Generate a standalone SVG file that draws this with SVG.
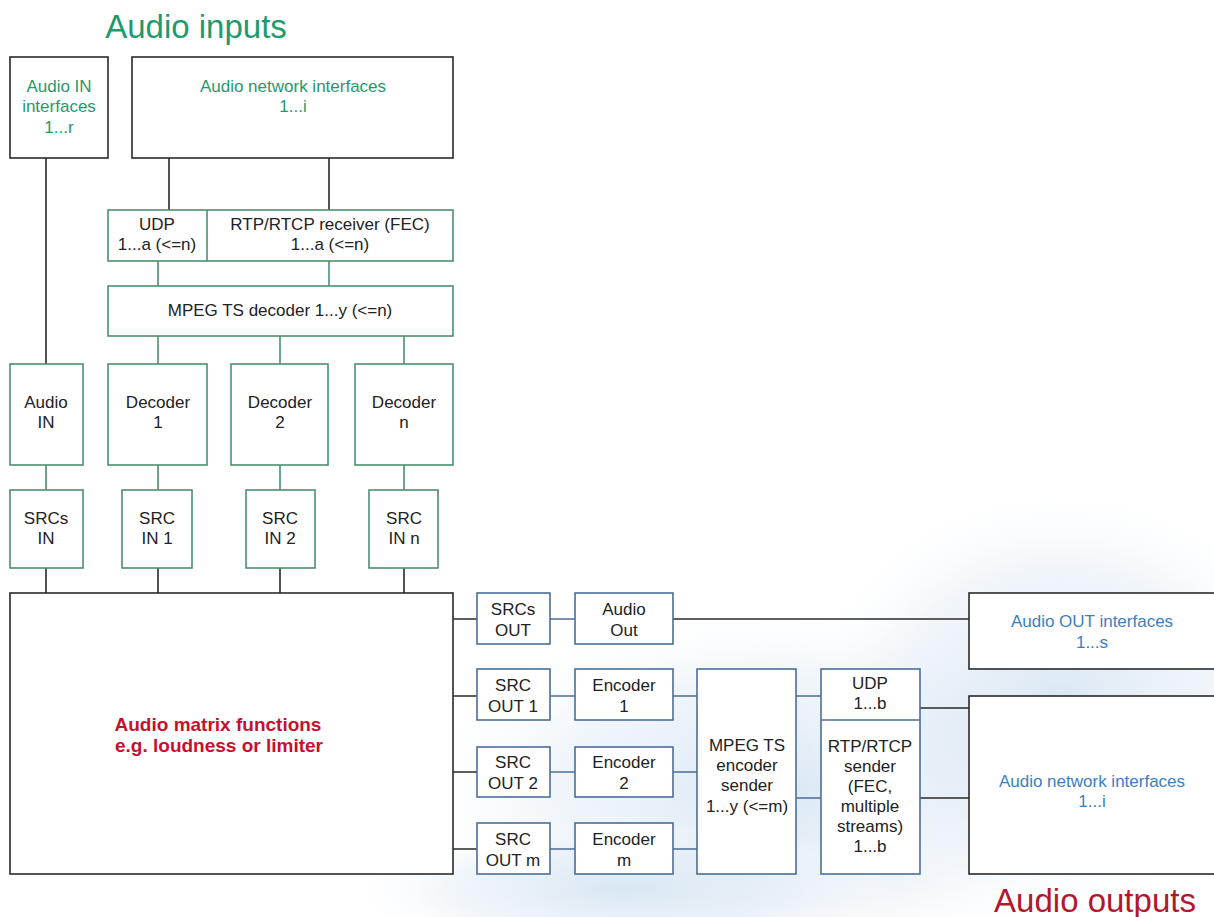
<svg xmlns="http://www.w3.org/2000/svg" width="1214" height="917" viewBox="0 0 1214 917">
<defs>
<radialGradient id="bg1" cx="0.5" cy="0.5" r="0.5">
<stop offset="0" stop-color="#d4e4f2" stop-opacity="0.85"/>
<stop offset="0.6" stop-color="#e2ecf6" stop-opacity="0.5"/>
<stop offset="1" stop-color="#ffffff" stop-opacity="0"/>
</radialGradient>
<style>
text{font-family:"Liberation Sans",Arial,sans-serif;font-size:17px;text-anchor:middle;fill:#222}
.g{fill:#1f9a6c}
.b{fill:#3a7fc4}
.gn{fill:#fff;stroke:#4b8f6f;stroke-width:1.6}
.bl{fill:#fff;stroke:#4a6f96;stroke-width:1.6}
.bkf{fill:#fff;stroke:#2a2a2a;stroke-width:1.6}
.lk{stroke:#2a2a2a;stroke-width:1.6;fill:none}
.lg{stroke:#4b8f6f;stroke-width:1.6;fill:none}
.lb{stroke:#4a6f96;stroke-width:1.6;fill:none}
.title{font-size:33px}
.red{fill:#c8102e;font-weight:bold;font-size:19px}
</style>
</defs>
<rect width="1214" height="917" fill="#fff"/>
<g id="background">
<ellipse cx="780" cy="790" rx="380" ry="190" fill="url(#bg1)"/>
<ellipse cx="1060" cy="700" rx="260" ry="220" fill="url(#bg1)"/>
<ellipse cx="620" cy="890" rx="280" ry="70" fill="url(#bg1)"/>
</g>
<text class="g title" x="196" y="38">Audio inputs</text>
<text class="title" x="1095" y="912" style="fill:#b5162e">Audio outputs</text>
<g id="connectors">
<path class="lk" d="M46 158V364M169 158V210M329 158V210"/>
<path class="lg" d="M158 261V286M329 261V286M158 336V364M280 336V364M404 336V364"/>
<path class="lg" d="M46 465V490M158 465V490M280 465V490M404 465V490"/>
<path class="lk" d="M46 568V593M158 568V593M280 568V593M404 568V593"/>
<path class="lk" d="M453 619H477M453 696H477M453 772H477M453 849H477"/>
<path class="lb" d="M550 619H575M550 696H575M550 772H575M550 849H575"/>
<path class="lk" d="M673 619H969"/>
<path class="lb" d="M673 696H697M673 772H697M673 849H697M796 696H821M796 798H821"/>
<path class="lk" d="M920 708H969M920 798H969"/>
</g>
<g id="audio-in-interfaces"><rect class="bkf" x="10" y="57" width="98" height="101"/>
<text class="g" x="59" y="92">Audio IN</text><text class="g" x="59" y="112">interfaces</text><text class="g" x="59" y="133">1...r</text></g>
<g id="audio-network-in"><rect class="bkf" x="132" y="57" width="321" height="101"/>
<text class="g" x="293" y="92">Audio network interfaces</text><text class="g" x="293" y="112">1...i</text></g>
<g id="udp-rtp-receiver"><rect class="gn" x="108" y="210" width="345" height="51"/><path class="lg" d="M207 210V261"/>
<text x="157" y="230">UDP</text><text x="157" y="250">1...a (&lt;=n)</text>
<text x="330" y="230">RTP/RTCP receiver (FEC)</text><text x="330" y="250">1...a (&lt;=n)</text></g>
<g id="mpeg-decoder"><rect class="gn" x="108" y="286" width="345" height="50"/>
<text x="280" y="316">MPEG TS decoder 1...y (&lt;=n)</text></g>
<g id="audio-in"><rect class="gn" x="10" y="364" width="73" height="101"/><text x="46" y="408">Audio</text><text x="46" y="428">IN</text></g>
<g id="decoder-1"><rect class="gn" x="108" y="364" width="99" height="101"/><text x="158" y="408">Decoder</text><text x="158" y="428">1</text></g>
<g id="decoder-2"><rect class="gn" x="231" y="364" width="97" height="101"/><text x="280" y="408">Decoder</text><text x="280" y="428">2</text></g>
<g id="decoder-n"><rect class="gn" x="355" y="364" width="98" height="101"/><text x="404" y="408">Decoder</text><text x="404" y="428">n</text></g>
<g id="srcs-in"><rect class="gn" x="10" y="490" width="73" height="78"/><text x="46" y="524">SRCs</text><text x="46" y="544">IN</text></g>
<g id="src-in-1"><rect class="gn" x="122" y="490" width="70" height="78"/><text x="157" y="524">SRC</text><text x="157" y="544">IN 1</text></g>
<g id="src-in-2"><rect class="gn" x="246" y="490" width="69" height="78"/><text x="280" y="524">SRC</text><text x="280" y="544">IN 2</text></g>
<g id="src-in-n"><rect class="gn" x="369" y="490" width="69" height="78"/><text x="404" y="524">SRC</text><text x="404" y="544">IN n</text></g>
<g id="audio-matrix"><rect class="bkf" x="10" y="593" width="443" height="281"/>
<text class="red" x="218" y="731">Audio matrix functions</text>
<text class="red" x="219" y="752">e.g. loudness or limiter</text></g>
<g id="srcs-out"><rect class="bl" x="477" y="593" width="73" height="51"/><text x="513" y="615">SRCs</text><text x="513" y="636">OUT</text></g>
<g id="audio-out"><rect class="bl" x="575" y="593" width="98" height="51"/><text x="624" y="615">Audio</text><text x="624" y="636">Out</text></g>
<g id="src-out-1"><rect class="bl" x="477" y="669" width="73" height="51"/><text x="513" y="691">SRC</text><text x="513" y="712">OUT 1</text></g>
<g id="encoder-1"><rect class="bl" x="575" y="669" width="98" height="51"/><text x="624" y="691">Encoder</text><text x="624" y="712">1</text></g>
<g id="src-out-2"><rect class="bl" x="477" y="747" width="73" height="50"/><text x="513" y="768">SRC</text><text x="513" y="789">OUT 2</text></g>
<g id="encoder-2"><rect class="bl" x="575" y="747" width="98" height="50"/><text x="624" y="768">Encoder</text><text x="624" y="789">2</text></g>
<g id="src-out-m"><rect class="bl" x="477" y="823" width="73" height="51"/><text x="513" y="845">SRC</text><text x="513" y="866">OUT m</text></g>
<g id="encoder-m"><rect class="bl" x="575" y="823" width="98" height="51"/><text x="624" y="845">Encoder</text><text x="624" y="866">m</text></g>
<g id="mpeg-encoder"><rect class="bl" x="697" y="669" width="99" height="205"/>
<text x="747" y="751">MPEG TS</text><text x="747" y="771">encoder</text><text x="747" y="791">sender</text><text x="747" y="812">1...y (&lt;=m)</text></g>
<g id="udp-rtp-sender"><rect class="bl" x="821" y="669" width="99" height="205"/><path class="lb" d="M821 720H920"/>
<text x="870" y="689">UDP</text><text x="870" y="709">1...b</text>
<text x="870" y="752">RTP/RTCP</text><text x="870" y="772">sender</text><text x="870" y="792">(FEC,</text><text x="870" y="812">multiple</text><text x="870" y="832">streams)</text><text x="870" y="852">1...b</text></g>
<g id="audio-out-interfaces"><rect class="bkf" x="969" y="593" width="260" height="76"/>
<text class="b" x="1092" y="627">Audio OUT interfaces</text><text class="b" x="1092" y="648">1...s</text></g>
<g id="audio-network-out"><rect class="bkf" x="969" y="696" width="260" height="178"/>
<text class="b" x="1092" y="787">Audio network interfaces</text><text class="b" x="1092" y="807">1...i</text></g>
</svg>
